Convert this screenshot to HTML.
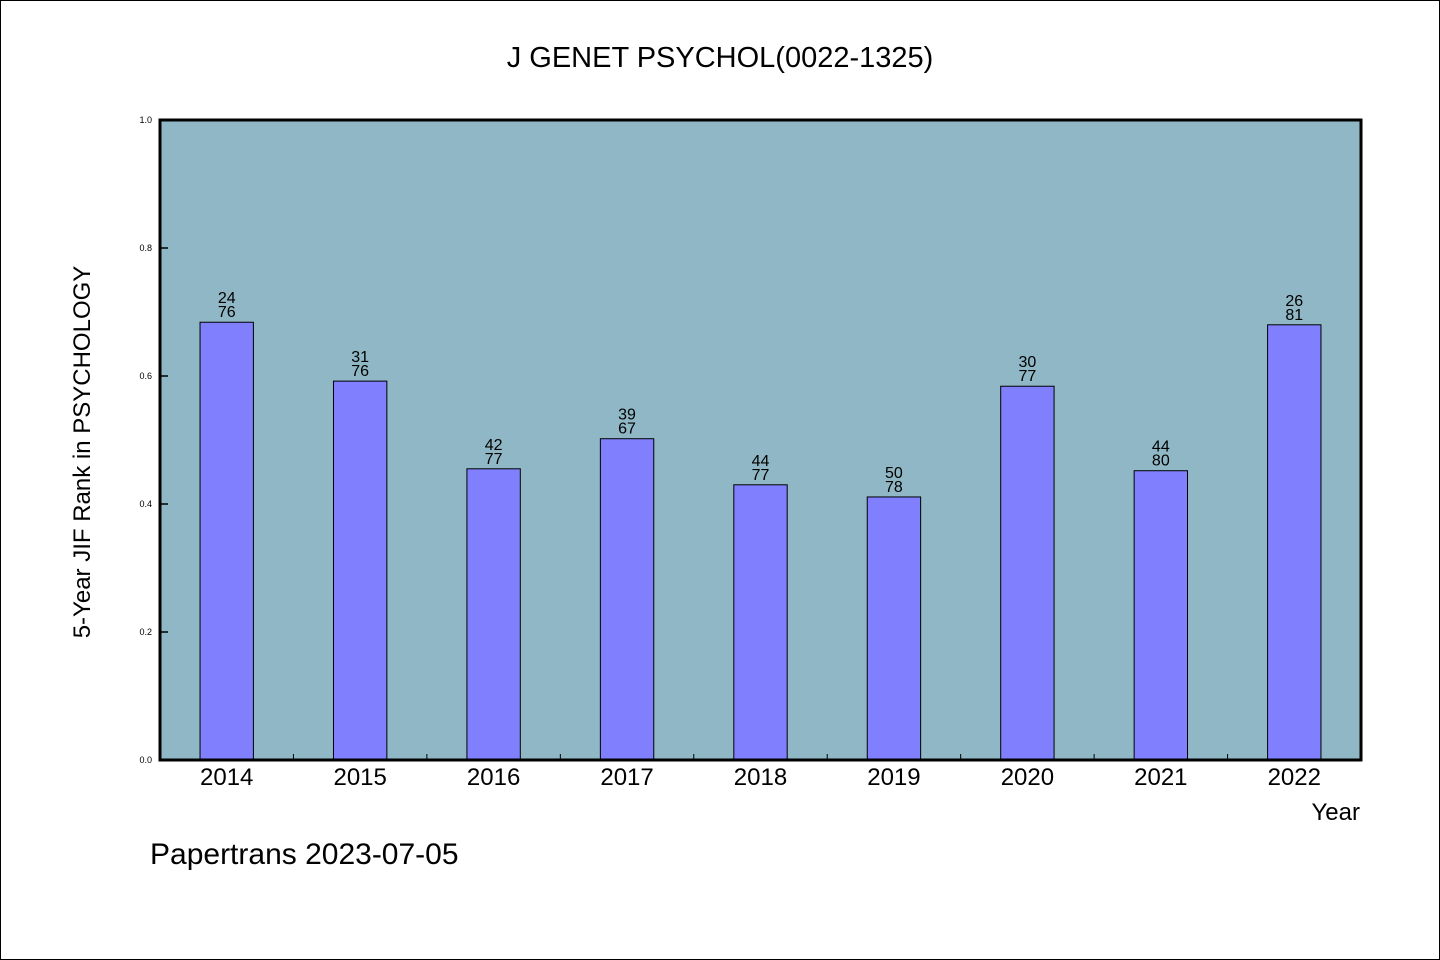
<!DOCTYPE html>
<html><head><meta charset="utf-8"><style>
body{margin:0;background:#fff;}
svg{display:block;font-family:"WenQuanYi Zen Hei","Liberation Sans",sans-serif;}
</style></head><body>
<svg id="chart" width="1440" height="960" viewBox="0 0 1440 960" xmlns="http://www.w3.org/2000/svg">
<rect x="0.5" y="0.5" width="1439" height="959" fill="#fff" stroke="#000"/>
<text x="720" y="67" text-anchor="middle" font-size="29">J GENET PSYCHOL(0022-1325)</text>
<rect x="160" y="120" width="1201" height="640" fill="#8fb7c5"/>
<g id="marks"></g>
<rect x="160" y="120" width="1201" height="640" fill="none" stroke="#000" stroke-width="3"/>
<text transform="translate(90,452) rotate(-90)" text-anchor="middle" font-size="24">5-Year JIF Rank in PSYCHOLOGY</text>
<text x="1360" y="820" text-anchor="end" font-size="24">Year</text>
<text x="150" y="864" font-size="30">Papertrans 2023-07-05</text>
</svg>
<script>
const years=["2014","2015","2016","2017","2018","2019","2020","2021","2022"];
const values=[0.684,0.592,0.455,0.502,0.430,0.411,0.584,0.452,0.680];
const ranks=["24","31","42","39","44","50","30","44","26"];
const totals=["76","76","77","67","77","78","77","80","81"];
const yTicks=[0,0.2,0.4,0.6,0.8,1.0];
const X0=160,W=1201,Y0=760,H=640;
const band=W/years.length;
const xc=i=>X0+band*(i+0.5);
const y=v=>Y0-v*H;
const g=document.getElementById('marks');
const NS="http://www.w3.org/2000/svg";
function mk(t,a){const e=document.createElementNS(NS,t);for(const k in a)e.setAttribute(k,a[k]);return e;}
yTicks.forEach(t=>{
  const l=mk('line',{x1:X0,x2:X0+8,y1:y(t),y2:y(t),stroke:'#000','stroke-width':1.5});
  
  
  g.appendChild(l);
  const tx=mk('text',{x:X0-8,y:y(t)+3,'text-anchor':'end','font-size':9});
  
  
  tx.textContent=t.toFixed(1);g.appendChild(tx);
});
years.forEach((yr,i)=>{
  const bw=band*0.4;
  const r=mk('rect',{x:xc(i)-bw/2,y:y(values[i]),width:bw,height:values[i]*H,fill:'#8080ff',stroke:'#000','stroke-width':1});
  
  
  g.appendChild(r);
  if(i>0){const tk=mk('line',{x1:X0+band*i,x2:X0+band*i,y1:Y0,y2:Y0-6,stroke:'#000','stroke-width':1});
  
  
  g.appendChild(tk);}
  const xl=mk('text',{x:xc(i),y:Y0+25,'text-anchor':'middle','font-size':24});
  
  
  xl.textContent=yr;g.appendChild(xl);
  const a=mk('text',{x:xc(i),y:y(values[i])-19,'text-anchor':'middle','font-size':16});
  
  
  a.textContent=ranks[i];g.appendChild(a);
  const b=mk('text',{x:xc(i),y:y(values[i])-5,'text-anchor':'middle','font-size':16});
  
  
  b.textContent=totals[i];g.appendChild(b);
});
</script>
</body></html>
